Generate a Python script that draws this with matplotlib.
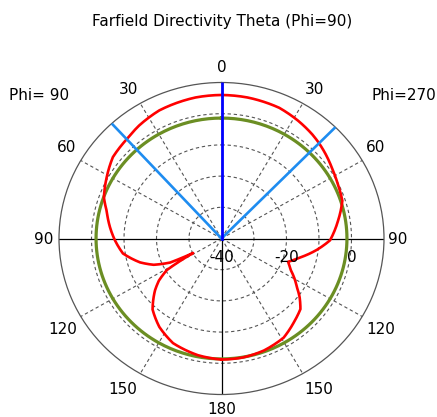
import numpy as np
import matplotlib.pyplot as plt

# Directivity cut in dB, theta measured from the zenith
theta_phi90 = [0, 10, 25, 35, 42, 52, 61, 70, 76, 84, 91, 99, 107, 112, 116, 118,
               121, 125, 129, 134, 137, 146, 156, 169, 180]
dir_phi90 = [6.0, 5.9, 5.3, 4.2, 3.2, 2.4, 0.4, -1.5, -3.6, -5.5, -7.2, -9.3, -13.8,
             -17.5, -22.4, -30.1, -20.4, -16.5, -13.7, -10.7, -8.9, -5.8, -3.3, -1.9, -1.2]

theta_phi270 = [0, 10, 23, 32, 40, 44, 50, 57, 64, 72, 81, 91, 97, 104, 110, 115,
                120, 124, 128, 133, 140, 149, 160, 170, 180]
dir_phi270 = [6.0, 5.9, 5.5, 4.5, 3.5, 2.9, 1.9, 0.7, -0.2, -0.9, -3.7, -6.6, -10.4,
              -15.0, -18.2, -16.6, -14.0, -12.0, -9.5, -6.8, -5.2, -2.9, -1.8, -1.3, -1.2]

ref_level = -1.4          # reference circle (dB)
main_lobe_dir = 0.0       # main lobe direction (deg)
beam_edges = [-42.5, 44.5]  # 3 dB beamwidth limits (deg)

r_min, r_max = -40, 10
ring_levels = [-30, -20, -10, 0]
ring_labels = [-40, -20, 0]
spoke_angles = [30, 60, 120, 150, 210, 240, 300, 330]

FS = 11
W, H = 437, 417
fig = plt.figure(figsize=(W / 100, H / 100), dpi=100)
ax = fig.add_axes([59 / W, 22.5 / H, 325 / W, 312 / H], projection="polar")
ax.set_aspect("auto")
ax.set_theta_zero_location("N")
ax.set_theta_direction(-1)
ax.set_rlim(r_min, r_max)
ax.grid(False)
ax.set_xticks([])
ax.set_yticks([])
ax.spines["polar"].set_color("#555555")
ax.spines["polar"].set_linewidth(0.9)

# grid: dashed rings and spokes, solid cross
full = np.linspace(0, 2 * np.pi, 361)
for lvl in ring_levels:
    ax.plot(full, np.full_like(full, lvl), color="#555555", lw=0.8,
            ls=(0, (3, 2.5)), zorder=1)
for a in spoke_angles:
    t = np.deg2rad(a)
    ax.plot([t, t], [r_min, r_max], color="#555555", lw=0.8, ls=(0, (3, 2.5)), zorder=1)
for a in [0, 90, 180, 270]:
    t = np.deg2rad(a)
    ax.plot([t, t], [r_min, r_max], color="black", lw=0.9, zorder=1)

# reference circle
ax.plot(full, np.full_like(full, ref_level), color="#6b8e23", lw=2.3, zorder=2)

# directivity: phi=90 half on the left, phi=270 half on the right
th = np.concatenate([-np.deg2rad(theta_phi90[::-1]), np.deg2rad(theta_phi270)])
dd = np.concatenate([dir_phi90[::-1], dir_phi270])
(pattern,) = ax.plot(th, dd, color="#ff0000", lw=1.9, zorder=3)
# draw segments as arcs in (theta, r) rather than straight chords
pattern.get_path()._interpolation_steps = 12

# beam markers
for a in beam_edges:
    t = np.deg2rad(a)
    ax.plot([t, t], [r_min, r_max], color="#1e8cf0", lw=1.9, zorder=4)
t0 = np.deg2rad(main_lobe_dir)
ax.plot([t0, t0], [r_min, r_max], color="#0000ff", lw=2.0, zorder=5)

# radial level labels
for lvl in ring_labels:
    ax.annotate(str(lvl), xy=(np.pi / 2, lvl), xytext=(0, -14), textcoords="offset points",
                ha="center", va="center", fontsize=FS, zorder=6)

# angle labels around the rim
angle_labels = [("0", 222, 67.5), ("30", 128, 90), ("30", 315, 90),
                ("60", 67, 148), ("60", 376, 148), ("90", 44, 240), ("90", 398, 240),
                ("120", 63, 330), ("120", 381, 330), ("150", 123, 390), ("150", 319, 390),
                ("180", 222, 410)]
for txt, x, y in angle_labels:
    fig.text(x / W, 1 - y / H, txt, ha="center", va="center", fontsize=FS)

fig.text(39 / W, 1 - 95 / H, "Phi= 90", ha="center", va="center", fontsize=FS)
fig.text(404 / W, 1 - 95 / H, "Phi=270", ha="center", va="center", fontsize=FS)
fig.text(222 / W, 1 - 21.5 / H, "Farfield Directivity Theta (Phi=90)",
         ha="center", va="center", fontsize=FS)

fig.savefig("out.png", dpi=100)
